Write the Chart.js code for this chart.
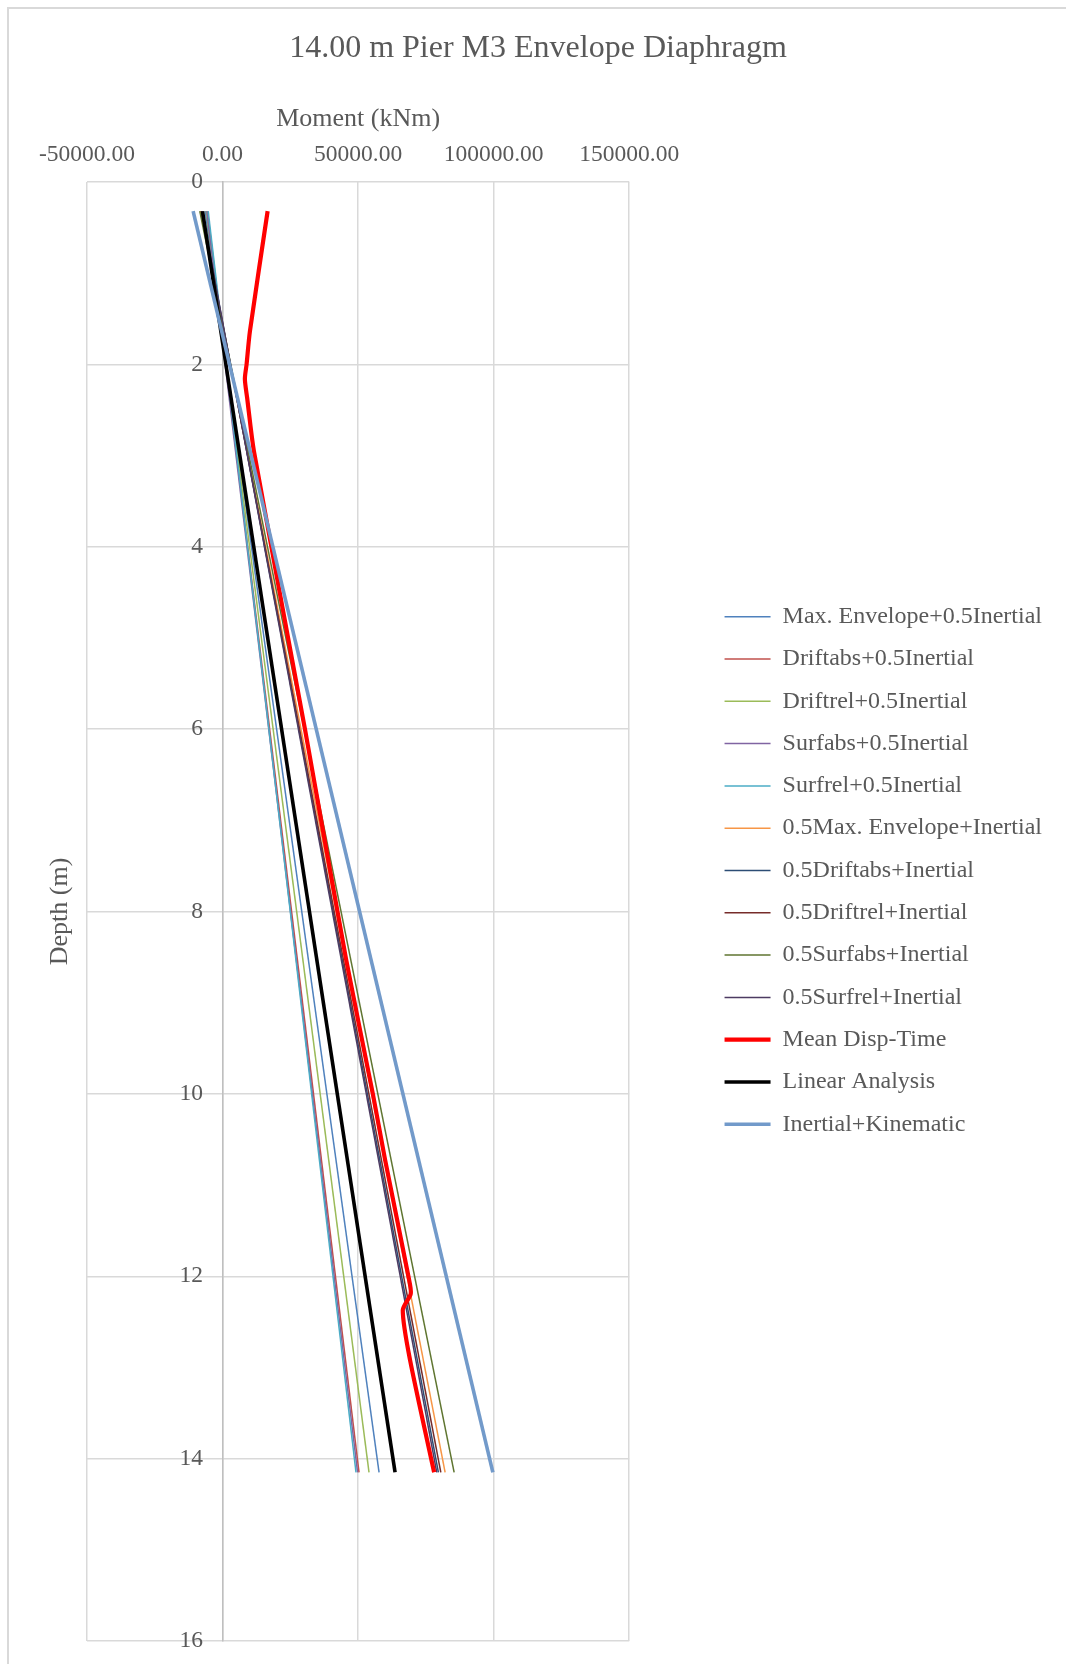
<!DOCTYPE html>
<html>
<head>
<meta charset="utf-8">
<title>14.00 m Pier M3 Envelope Diaphragm</title>
<script src="https://cdn.jsdelivr.net/npm/chart.js@4.4.1/dist/chart.umd.min.js"></script>
<style>
  html, body { margin: 0; padding: 0; background: #fff; overflow: hidden; }
  #frame { position: absolute; left: 7px; top: 7px; width: 1100px; height: 1700px;
           border-top: 2px solid #d9d9d9; border-left: 2px solid #d9d9d9; }
  #wrap { position: absolute; left: 0; top: 0; width: 1066px; height: 1664px; }
</style>
</head>
<body>
<div id="frame"></div>
<div id="wrap"><canvas id="envelopeChart"></canvas></div>
<script>
// Depth of the pier nodes (m) - straight envelopes only need the two ends
const pileDepths = [0.32, 14.15];

// Moments (kNm) at the top and bottom node
const maxEnvHalfInertial   = [-6400, 57720];
const driftabsHalfInertial = [-5600, 50330];
const driftrelHalfInertial = [-6000, 54020];
const surfabsHalfInertial  = [-5800, 49800];
const surfrelHalfInertial  = [-5300, 49220];
const halfMaxEnvInertial   = [-8100, 82090];
const halfDriftabsInertial = [-7700, 79620];
const halfDriftrelInertial = [-7900, 80500];
const halfSurfabsInertial  = [-8400, 85420];
const halfSurfrelInertial  = [-7600, 79000];
const linearAnalysis       = [-7390, 63630];
const inertialKinematic    = [-10860, 99700];

// Mean Disp-Time is not straight, so it gets its own depth list
const meanDispDepths  = [0.32, 1.64, 2.0, 2.16, 2.37, 2.95, 6, 8.52, 10, 10.72, 12, 12.19, 12.37, 12.92, 14.15];
const meanDispMoments = [16620, 10080, 8860, 8230, 9080, 11560, 30390, 45530, 55430, 59930, 68540, 69420, 66470, 69160, 78030];

// axis ticks
const momentTicks = [-50000, 0, 50000, 100000, 150000];
const depthTicks = [0, 2, 4, 6, 8, 10, 12, 14, 16];

const FONT = "'Liberation Serif', 'Times New Roman', serif";
const TEXT = '#595959';
const GRID = '#d9d9d9';

function toPoints(depths, moments) {
    return depths.map(function(d, i) { return { x: moments[i], y: d }; });
}

function series(label, depths, moments, color, width, tension) {
    return {
        label: label,
        data: toPoints(depths, moments),
        borderColor: color,
        backgroundColor: color,
        borderWidth: width,
        pointRadius: 0,
        pointHoverRadius: 0,
        fill: false,
        tension: tension || 0,
        xAxisID: 'x',
        yAxisID: 'y'
    };
}

const datasets = [
    series('Max. Envelope+0.5Inertial', pileDepths, maxEnvHalfInertial, '#4F81BD', 1.5),
    series('Driftabs+0.5Inertial', pileDepths, driftabsHalfInertial, '#C0504D', 1.5),
    series('Driftrel+0.5Inertial', pileDepths, driftrelHalfInertial, '#9BBB59', 1.5),
    series('Surfabs+0.5Inertial', pileDepths, surfabsHalfInertial, '#8064A2', 1.5),
    series('Surfrel+0.5Inertial', pileDepths, surfrelHalfInertial, '#4BACC6', 1.5),
    series('0.5Max. Envelope+Inertial', pileDepths, halfMaxEnvInertial, '#F79646', 1.5),
    series('0.5Driftabs+Inertial', pileDepths, halfDriftabsInertial, '#2C4D75', 1.5),
    series('0.5Driftrel+Inertial', pileDepths, halfDriftrelInertial, '#772C2A', 1.5),
    series('0.5Surfabs+Inertial', pileDepths, halfSurfabsInertial, '#5F7530', 1.5),
    series('0.5Surfrel+Inertial', pileDepths, halfSurfrelInertial, '#4D3B62', 1.5),
    series('Mean Disp-Time', meanDispDepths, meanDispMoments, '#FF0000', 4.2, 0.25),
    series('Linear Analysis', pileDepths, linearAnalysis, '#000000', 3.6),
    series('Inertial+Kinematic', pileDepths, inertialKinematic, '#729ACA', 3.6)
];
// excel draws later series on top
datasets.forEach(function(ds, i) { ds.order = datasets.length - i; });

new Chart(document.getElementById('envelopeChart'), {
    type: 'line',
    data: { datasets: datasets },
    options: {
        responsive: true,
        maintainAspectRatio: false,
        animation: false,
        events: [],
        layout: { padding: { left: 24, right: 14, top: 0, bottom: 23 } },
        scales: {
            x: {
                type: 'linear',
                position: 'top',
                min: momentTicks[0],
                max: momentTicks[momentTicks.length - 1],
                afterBuildTicks: function(scale) {
                    scale.ticks = momentTicks.map(function(v) { return { value: v }; });
                },
                afterFit: function(scale) { scale.height = 104.6; },
                ticks: {
                    autoSkip: false,
                    maxRotation: 0,
                    padding: 13,
                    color: TEXT,
                    font: { family: FONT, size: 23.5 },
                    callback: function(v) { return Number(v).toFixed(2); }
                },
                grid: { color: GRID, lineWidth: 1.5, drawTicks: false },
                border: { display: false },
                title: {
                    display: true,
                    text: 'Moment (kNm)',
                    color: TEXT,
                    font: { family: FONT, size: 26 },
                    padding: { top: 26, bottom: 0 }
                }
            },
            y: {
                type: 'linear',
                position: { x: 0 },
                reverse: true,
                min: depthTicks[0],
                max: depthTicks[depthTicks.length - 1],
                afterBuildTicks: function(scale) {
                    scale.ticks = depthTicks.map(function(v) { return { value: v }; });
                },
                ticks: {
                    autoSkip: false,
                    color: TEXT,
                    font: { family: FONT, size: 23.5 },
                    // labels sit against the crossing axis, keep a gap like excel
                    callback: function(v) { return v + '   \u200A'; }
                },
                grid: { color: GRID, lineWidth: 1.5, drawTicks: false },
                border: { display: true, color: '#bfbfbf', width: 1.5 }
            },
            yTitle: {
                type: 'linear',
                position: 'left',
                display: true,
                afterFit: function(scale) { scale.width = 63; },
                ticks: { display: false },
                grid: { display: false, drawTicks: false },
                border: { display: false },
                title: {
                    display: true,
                    text: 'Depth (m)',
                    color: TEXT,
                    font: { family: FONT, size: 26 },
                    padding: { top: 20.4, bottom: 0 }
                }
            },
            yGap: {
                type: 'linear',
                position: 'right',
                display: true,
                afterFit: function(scale) { scale.width = 77; },
                ticks: { display: false },
                grid: { display: false, drawTicks: false },
                border: { display: false }
            }
        },
        plugins: {
            title: {
                display: true,
                text: '14.00 m Pier M3 Envelope Diaphragm',
                color: TEXT,
                font: { family: FONT, size: 32, weight: 'normal' },
                padding: { top: 29, bottom: 10 }
            },
            legend: {
                position: 'right',
                align: 'center',
                maxWidth: 400,
                title: { display: true, text: '', font: { size: 10 }, padding: { top: 88, bottom: 0 } },
                labels: {
                    usePointStyle: true,
                    pointStyle: 'line',
                    pointStyleWidth: 46,
                    padding: 18.3,
                    color: TEXT,
                    font: { family: FONT, size: 24 },
                    sort: function(a, b) { return a.datasetIndex - b.datasetIndex; }
                }
            },
            tooltip: { enabled: false }
        }
    }
});
</script>
</body>
</html>
